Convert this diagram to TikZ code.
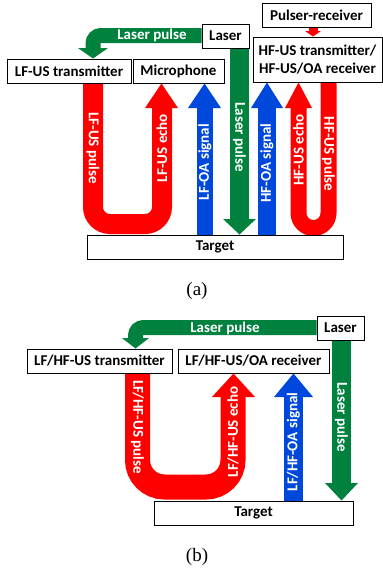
\documentclass[tikz,border=0pt]{standalone}
\usepackage{fontspec}
\usetikzlibrary{backgrounds}
\newfontfamily\carl{Carlito}
\newfontfamily\tnr{Liberation Serif}
\definecolor{myred}{RGB}{255,0,0}
\definecolor{myblue}{RGB}{0,72,220}
\definecolor{mygreen}{RGB}{0,130,62}
\begin{document}
\begin{tikzpicture}[x=1pt,y=-1pt,
  box/.style={draw=black, line width=1pt, fill=white, inner sep=0pt, minimum height=24pt,
    font=\carl\bfseries\fontsize{15}{18}\selectfont, align=center},
  lbl/.style={text=white, inner sep=0pt, font=\carl\bfseries\fontsize{15}{18}\selectfont},
  captext/.style={inner sep=0pt, font=\tnr\fontsize{19}{22}\selectfont}]
\useasboundingbox (0,0) rectangle (383,571);
% ---------------- panel (a) boxes
\node[box, minimum width=109pt] (pr) at (316.5,15) {Pulser-receiver};
\node[box, minimum width=47pt] (la) at (225.5,36) {Laser};
\node[box, minimum width=129pt, minimum height=45pt] (hf) at (317.5,59.5) {HF-US transmitter/\\HF-US/OA receiver};
\node[box, minimum width=124pt] (lfus) at (69,71) {LF-US transmitter};
\node[box, minimum width=91pt] (mic) at (178.5,71) {Microphone};
\node[box, minimum width=256pt] (ta) at (215,247) {Target};
\node[captext] (capa) at (197,291) {(a)};
% ---------------- panel (b) boxes
\node[box, minimum width=47pt] (lb) at (340.5,328) {Laser};
\node[box, minimum width=145pt] (tx) at (99.5,361) {LF/HF-US transmitter};
\node[box, minimum width=151pt] (rx) at (253.5,361) {LF/HF-US/OA receiver};
\node[box, minimum width=199pt] (tb) at (253.5,513) {Target};
\node[captext] (capb) at (197,557) {(b)};
% ---------------- arrows (a)
\begin{scope}[on background layer]
% pulser -> HF transmitter
\draw[myred, line width=9pt] (313,0 |- pr.south) -- (313,31);
\fill[myred] (305,31) -- (321,31) -- (313,0 |- hf.north) -- cycle;
% laser pulse horizontal
\draw[mygreen, line width=15pt, rounded corners=8pt] (la.west |- 0,35.5) -- (93,35.5) -- (93,48);
\fill[mygreen] (78,48) -- (108,48) -- (93,0 |- lfus.north) -- cycle;
% laser pulse vertical
\draw[mygreen, line width=19pt] (239.5,0 |- la.south) -- (239.5,219);
\fill[mygreen] (223,219) -- (256,219) -- (239.5,0 |- ta.north) -- cycle;
% LF-US U
\draw[myred, line width=20pt, rounded corners=17pt] (93,0 |- lfus.south) -- (93,224) -- (162,224) -- (162,108);
\fill[myred] (145,108) -- (178,108) -- (161.5,0 |- mic.south) -- cycle;
% LF-OA signal
\draw[myblue, line width=16pt] (205,0 |- ta.north) -- (205,108);
\fill[myblue] (188,108) -- (221,108) -- (204.5,0 |- mic.south) -- cycle;
% HF-OA signal
\draw[myblue, line width=18pt] (267,0 |- ta.north) -- (267,108);
\fill[myblue] (251,108) -- (283,108) -- (267,0 |- hf.south) -- cycle;
% HF-US U
\draw[myred, line width=16pt, rounded corners=15pt] (328.5,0 |- hf.south) -- (328.5,228) -- (298.5,228) -- (298.5,108);
\fill[myred] (285,108) -- (312,108) -- (298.5,0 |- hf.south) -- cycle;
% ---------------- arrows (b)
\draw[mygreen, line width=15pt, rounded corners=8pt] (lb.west |- 0,327.5) -- (135.5,327.5) -- (135.5,338);
\fill[mygreen] (122,338) -- (149,338) -- (135.5,0 |- tx.north) -- cycle;
\draw[mygreen, line width=19pt] (341.5,0 |- lb.south) -- (341.5,483);
\fill[mygreen] (325,483) -- (358,483) -- (341.5,0 |- tb.north) -- cycle;
\draw[myred, line width=25pt, rounded corners=27pt] (137.5,0 |- tx.south) -- (137.5,487) -- (233,487) -- (233,397);
\fill[myred] (212,397) -- (255,397) -- (233.5,0 |- rx.south) -- cycle;
\draw[myblue, line width=19pt] (293.5,0 |- tb.north) -- (293.5,397);
\fill[myblue] (274,397) -- (313,397) -- (293.5,0 |- rx.south) -- cycle;
\end{scope}
% ---------------- labels
\node[lbl] at (152,35.5) {Laser pulse};
\node[lbl, rotate=-90] at (93,148) {LF-US pulse};
\node[lbl, rotate=90] at (162,148) {LF-US echo};
\node[lbl, rotate=90] at (205,162) {LF-OA signal};
\node[lbl, rotate=-90] at (239.5,137) {Laser pulse};
\node[lbl, rotate=90] at (267,163) {HF-OA signal};
\node[lbl, rotate=90] at (298.5,150) {HF-US echo};
\node[lbl, rotate=-90] at (328.5,154) {HF-US pulse};
\node[lbl] at (225,328) {Laser pulse};
\node[lbl, rotate=-90] at (137.5,427) {LF/HF-US pulse};
\node[lbl, rotate=90] at (233,432) {LF/HF-US echo};
\node[lbl, rotate=90] at (293.5,442) {LF/HF-OA signal};
\node[lbl, rotate=-90] at (341.5,417) {Laser pulse};
\end{tikzpicture}
\end{document}
